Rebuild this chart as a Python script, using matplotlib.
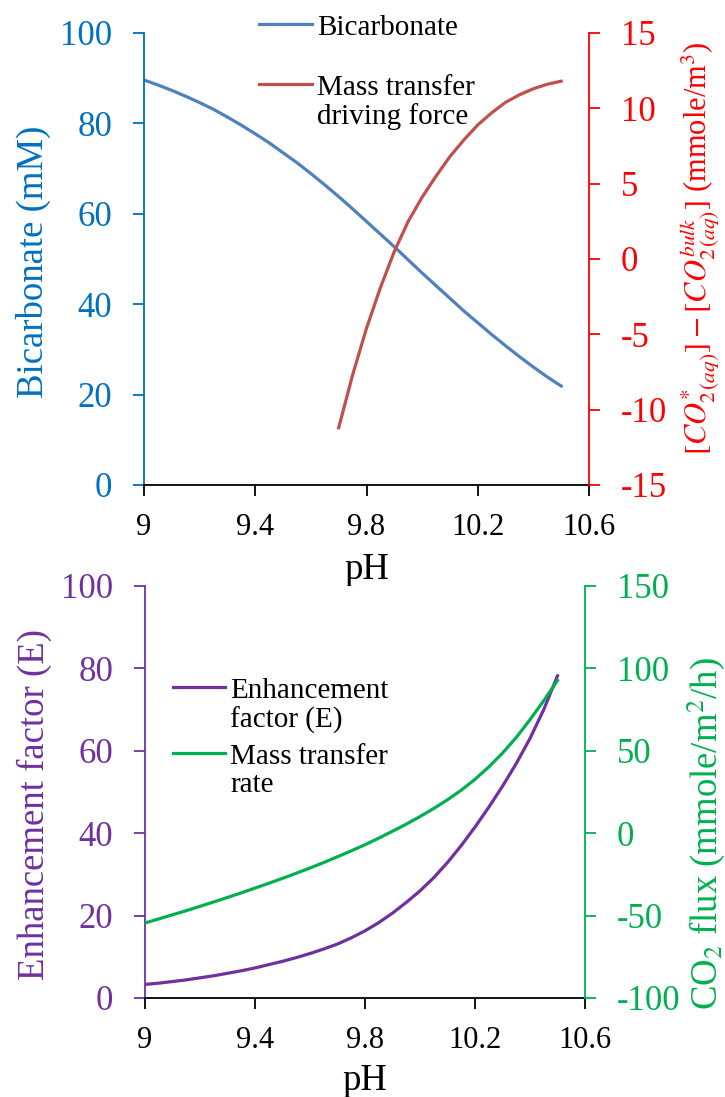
import matplotlib
matplotlib.use("Agg")
import matplotlib.pyplot as plt
from matplotlib.lines import Line2D

plt.rcParams['font.family'] = ['Liberation Serif', 'DejaVu Serif']
plt.rcParams['mathtext.fontset'] = 'stix'
plt.rcParams['axes.unicode_minus'] = False

# top panel data (pH, bicarbonate in mM, driving force in mmole/m3)
ph = [9.0, 9.05, 9.1, 9.15, 9.2, 9.25, 9.3, 9.35, 9.4, 9.45, 9.5, 9.55, 9.6, 9.65, 9.7, 9.75,
      9.8, 9.85, 9.9, 9.95, 10.0, 10.05, 10.1, 10.15, 10.2, 10.25, 10.3, 10.35, 10.4, 10.45, 10.5]
bicarbonate = [89.6, 88.5, 87.3, 86.0, 84.6, 83.1, 81.4, 79.6, 77.7, 75.7, 73.5, 71.3, 68.9, 66.4,
               63.8, 61.1, 58.3, 55.5, 52.7, 49.8, 46.9, 44.1, 41.3, 38.5, 35.9, 33.3, 30.8, 28.4,
               26.1, 23.9, 21.9]
ph_force = [9.7, 9.75, 9.8, 9.85, 9.9, 9.95, 10.0, 10.05, 10.1, 10.15, 10.2, 10.25, 10.3, 10.35,
            10.4, 10.45, 10.5]
driving_force = [-11.2, -7.7, -4.6, -1.9, 0.5, 2.5, 4.1, 5.5, 6.8, 7.9, 8.9, 9.7, 10.4, 10.9,
                 11.3, 11.6, 11.8]

# bottom panel data (enhancement factor E, CO2 flux in mmole/m2/h)
enhancement = [3.3, 3.6, 4.0, 4.4, 4.9, 5.4, 6.0, 6.6, 7.3, 8.1, 8.9, 9.8, 10.8, 11.9, 13.1, 14.6,
               16.3, 18.3, 20.6, 23.2, 26.0, 29.2, 32.9, 37.0, 41.5, 46.3, 51.4, 56.9, 63.0, 70.0,
               78.2]
flux = [-54.5, -52.0, -49.5, -47.0, -44.4, -41.7, -39.0, -36.2, -33.3, -30.4, -27.4, -24.3, -21.1,
        -17.8, -14.3, -10.7, -7.0, -3.0, 1.2, 5.5, 10.1, 15.0, 20.3, 26.1, 32.7, 40.2, 48.6, 58.1,
        68.9, 80.4, 92.7]

xticks = [9, 9.4, 9.8, 10.2, 10.6]
xticklabels = ['9', '9.4', '9.8', '10.2', '10.6']

BLUE_AX = '#0070C0'
BLUE_LN = '#4F81BD'
RED_AX = '#FF0000'
RED_LN = '#C0504D'
PURPLE = '#7030A0'
GREEN = '#00B050'

TICK_FS = 25
XTICK_FS = 22
LABEL_FS = 26.5
LEG_FS = 21
LW = 2.3

W, H = 725, 1097
fig = plt.figure(figsize=(W / 100, H / 100), dpi=100)


def style_axes(ax, axr, lcol, rcol):
    ax.set_xlim(9, 10.6)
    ax.set_xticks(xticks)
    ax.set_xticklabels(xticklabels, fontsize=XTICK_FS)
    ax.spines['top'].set_visible(False)
    axr.spines['top'].set_visible(False)
    ax.spines['right'].set_visible(False)
    axr.spines['left'].set_visible(False)
    axr.spines['bottom'].set_visible(False)
    ax.spines['left'].set_color(lcol)
    axr.spines['right'].set_color(rcol)
    for sp in ['left', 'bottom']:
        ax.spines[sp].set_linewidth(1.3)
    axr.spines['right'].set_linewidth(1.3)
    ax.spines['bottom'].set_color('black')
    ax.tick_params(axis='x', direction='out', length=8, width=1.3, pad=12, colors='black')
    ax.tick_params(axis='y', direction='out', length=8, width=1.3, pad=15,
                   colors=lcol, labelsize=TICK_FS)
    axr.tick_params(axis='y', direction='out', length=8, width=1.3, pad=15,
                    colors=rcol, labelsize=TICK_FS)


# ---------- top panel ----------
ax1 = fig.add_axes([144 / W, 1 - 485 / H, 445 / W, 452 / H])
ax1r = ax1.twinx()
ax1.plot(ph, bicarbonate, color=BLUE_LN, lw=LW)
ax1r.plot(ph_force, driving_force, color=RED_LN, lw=LW)
ax1.set_ylim(0, 100)
ax1.set_yticks([0, 20, 40, 60, 80, 100])
ax1r.set_ylim(-15, 15)
ax1r.set_yticks([-15, -10, -5, 0, 5, 10, 15])
style_axes(ax1, ax1r, BLUE_AX, RED_AX)
ax1.set_xlabel('pH', fontsize=LABEL_FS, labelpad=8)
ax1.set_ylabel('Bicarbonate (mM)', color=BLUE_AX, fontsize=LABEL_FS)
ax1.yaxis.set_label_coords(-0.209, 0.493)
ax1r.set_ylabel(r'$[CO_{2\,(aq)}^{*}]-[CO_{2\,(aq)}^{bulk}]$ (mmole/m$^3$)',
                color=RED_AX, fontsize=22)
ax1r.yaxis.set_label_coords(1.2, 0.524)

# ---------- bottom panel ----------
ax2 = fig.add_axes([145 / W, 1 - 998 / H, 440 / W, 412 / H])
ax2r = ax2.twinx()
ax2.plot(ph, enhancement, color=PURPLE, lw=LW)
ax2r.plot(ph, flux, color=GREEN, lw=LW)
ax2.set_ylim(0, 100)
ax2.set_yticks([0, 20, 40, 60, 80, 100])
ax2r.set_ylim(-100, 150)
ax2r.set_yticks([-100, -50, 0, 50, 100, 150])
style_axes(ax2, ax2r, PURPLE, GREEN)
ax2.set_xlabel('pH', fontsize=LABEL_FS, labelpad=6)
ax2.set_ylabel('Enhancement factor (E)', color=PURPLE, fontsize=LABEL_FS)
ax2.yaxis.set_label_coords(-0.211, 0.47)
ax2r.set_ylabel('CO$_2$ flux (mmole/m$^2$/h)', color=GREEN, fontsize=LABEL_FS)
ax2r.yaxis.set_label_coords(1.228, 0.40)

# ---------- legends: handle aligned with the first text line, like the original ----------
top_legend = [('Bicarbonate', BLUE_LN, 24), ('Mass transfer\ndriving force', RED_LN, 84)]
bottom_legend = [('Enhancement\nfactor (E)', PURPLE, 687), ('Mass transfer\nrate', GREEN, 753)]


def draw_legend(entries, x0, x1, xt):
    for text, col, y in entries:
        yf = 1 - y / H
        fig.add_artist(Line2D([x0 / W, x1 / W], [yf, yf], transform=fig.transFigure,
                              color=col, lw=LW))
        fig.text(xt / W, yf + 0.0085, text, fontsize=LEG_FS, va='top', ha='left',
                 linespacing=1.13)


draw_legend(top_legend, 259, 312, 317)
draw_legend(bottom_legend, 173, 225, 230)

fig.savefig('out.png', dpi=100)
